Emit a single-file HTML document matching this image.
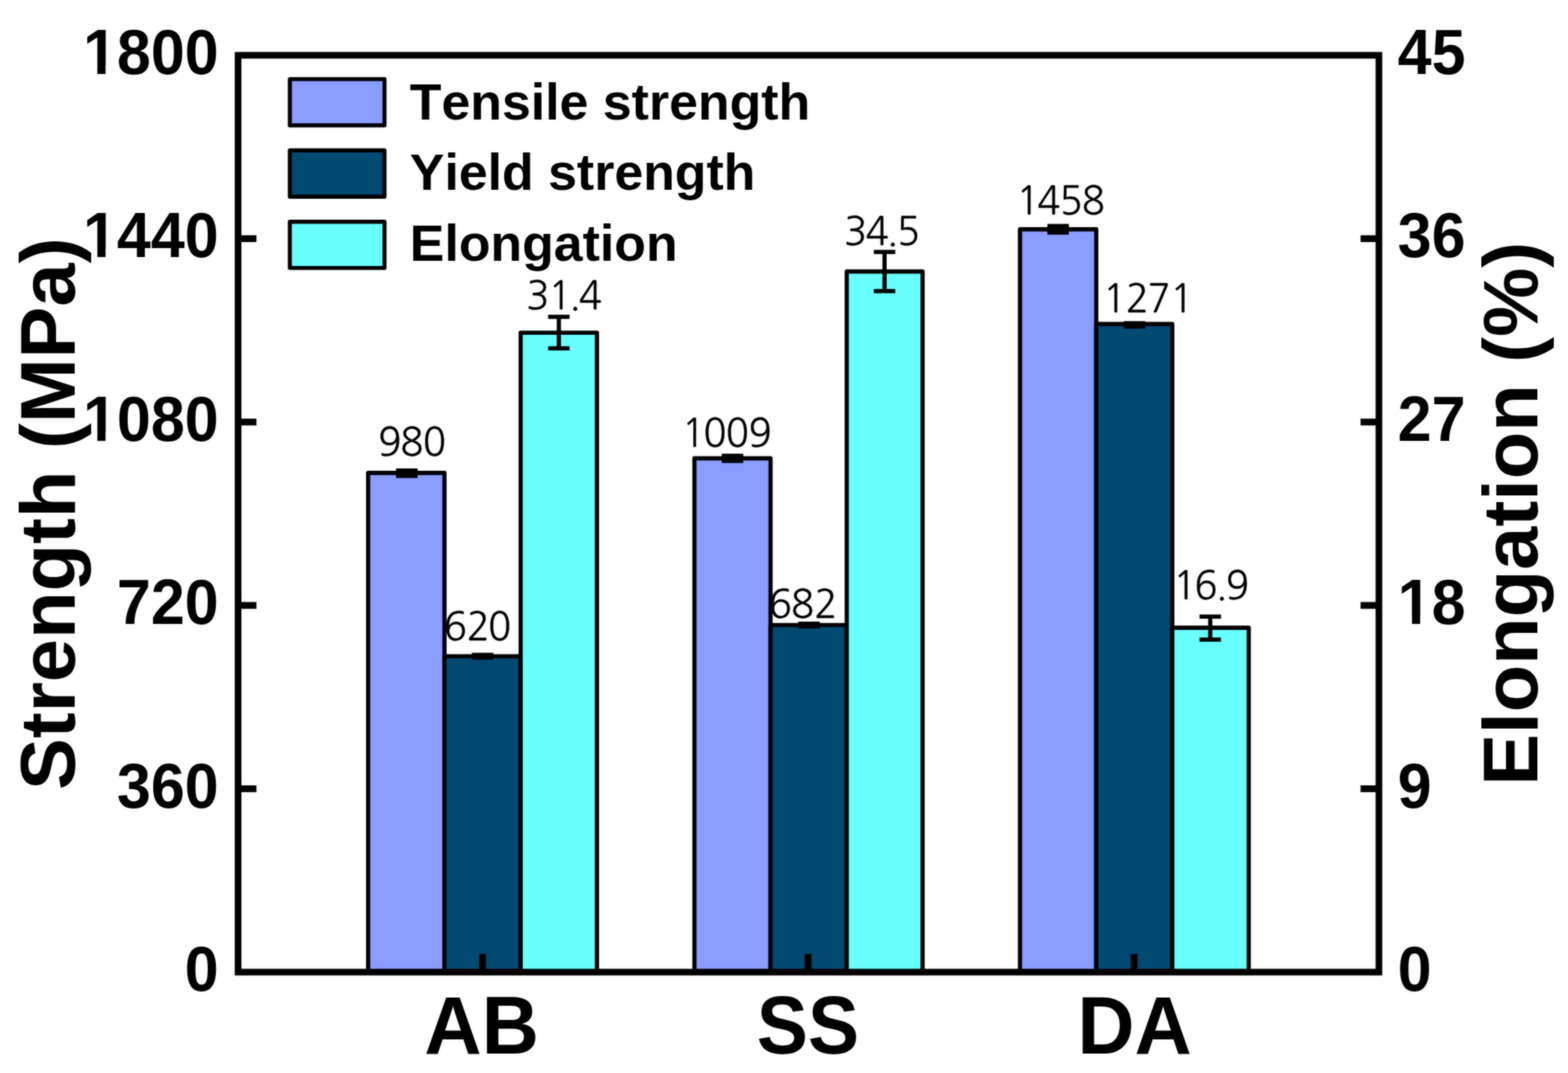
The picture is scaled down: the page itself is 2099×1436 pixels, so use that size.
<!DOCTYPE html>
<html lang="en">
<head>
<meta charset="utf-8">
<title>Tensile strength, yield strength and elongation of AB, SS and DA samples</title>
<style>
html,body{margin:0;padding:0;background:#fff;}
body{width:2099px;height:1436px;overflow:hidden;}
svg{display:block;}
.b{font-family:"Liberation Sans", sans-serif;font-weight:700;fill:#000;font-kerning:none;}
.d{font-family:"NanumGothic", "Noto Sans CJK KR", "Liberation Sans", sans-serif;font-weight:400;fill:#000;stroke:#000;stroke-width:0.3px;}
</style>
</head>
<body>
<svg width="2099" height="1436" viewBox="0 0 2099 1436" role="img" aria-label="Bar chart of tensile strength, yield strength and elongation for AB, SS and DA">
<defs>
<filter id="soft" x="0" y="0" width="2099" height="1436" filterUnits="userSpaceOnUse" color-interpolation-filters="sRGB">
<feGaussianBlur in="SourceGraphic" stdDeviation="0.9" result="b"/>
<feComposite in="SourceGraphic" in2="b" operator="arithmetic" k1="0" k2="0.45" k3="0.55" k4="0"/>
</filter>
</defs>
<g filter="url(#soft)">
<rect x="0" y="0" width="2099" height="1436" fill="#ffffff"/>
<g stroke="#000" stroke-width="5.6" stroke-linejoin="round">
<rect x="492.8" y="632.9" width="102.2" height="668.1" fill="#8b9dff"/>
<rect x="595.0" y="878.2" width="102.0" height="422.8" fill="#004a72"/>
<rect x="697.0" y="445.2" width="102.1" height="855.8" fill="#6affff"/>
<rect x="929.6" y="613.4" width="101.9" height="687.6" fill="#8b9dff"/>
<rect x="1031.5" y="836.5" width="102.0" height="464.5" fill="#004a72"/>
<rect x="1133.5" y="363.4" width="101.5" height="937.6" fill="#6affff"/>
<rect x="1365.4" y="306.9" width="102.1" height="994.1" fill="#8b9dff"/>
<rect x="1467.5" y="433.6" width="101.8" height="867.4" fill="#004a72"/>
<rect x="1569.3" y="840.1" width="102.3" height="460.9" fill="#6affff"/>
</g>
<g stroke="#000" stroke-width="5.6" stroke-linecap="butt" fill="none">
<line x1="530.2" y1="629.7" x2="559.0" y2="629.7"/>
<line x1="530.2" y1="636.9" x2="559.0" y2="636.9"/>
<line x1="544.6" y1="629.7" x2="544.6" y2="636.9"/>
<line x1="631.7" y1="876.4" x2="660.5" y2="876.4"/>
<line x1="631.7" y1="880.0" x2="660.5" y2="880.0"/>
<line x1="646.1" y1="876.4" x2="646.1" y2="880.0"/>
<line x1="733.7" y1="424.0" x2="762.5" y2="424.0"/>
<line x1="733.7" y1="466.2" x2="762.5" y2="466.2"/>
<line x1="748.1" y1="424.0" x2="748.1" y2="466.2"/>
<line x1="966.2" y1="610.0" x2="995.0" y2="610.0"/>
<line x1="966.2" y1="616.8" x2="995.0" y2="616.8"/>
<line x1="980.6" y1="610.0" x2="980.6" y2="616.8"/>
<line x1="1068.6" y1="834.7" x2="1097.4" y2="834.7"/>
<line x1="1068.6" y1="838.3" x2="1097.4" y2="838.3"/>
<line x1="1083.0" y1="834.7" x2="1083.0" y2="838.3"/>
<line x1="1169.7" y1="337.2" x2="1198.5" y2="337.2"/>
<line x1="1169.7" y1="389.6" x2="1198.5" y2="389.6"/>
<line x1="1184.1" y1="337.2" x2="1184.1" y2="389.6"/>
<line x1="1402.1" y1="302.5" x2="1430.9" y2="302.5"/>
<line x1="1402.1" y1="311.3" x2="1430.9" y2="311.3"/>
<line x1="1416.5" y1="302.5" x2="1416.5" y2="311.3"/>
<line x1="1504.3" y1="432.6" x2="1533.1" y2="432.6"/>
<line x1="1504.3" y1="437.0" x2="1533.1" y2="437.0"/>
<line x1="1518.7" y1="432.6" x2="1518.7" y2="437.0"/>
<line x1="1605.7" y1="825.2" x2="1634.5" y2="825.2"/>
<line x1="1605.7" y1="856.0" x2="1634.5" y2="856.0"/>
<line x1="1620.1" y1="825.2" x2="1620.1" y2="856.0"/>
</g>
<rect x="318.7" y="74.0" width="1527.2" height="1227.0" fill="none" stroke="#000" stroke-width="8.9"/>
<g stroke="#000" stroke-width="9.1">
<line x1="318.7" y1="1055.6" x2="343.3" y2="1055.6"/>
<line x1="1845.9" y1="1055.6" x2="1821.3" y2="1055.6"/>
<line x1="318.7" y1="810.2" x2="343.3" y2="810.2"/>
<line x1="1845.9" y1="810.2" x2="1821.3" y2="810.2"/>
<line x1="318.7" y1="564.8" x2="343.3" y2="564.8"/>
<line x1="1845.9" y1="564.8" x2="1821.3" y2="564.8"/>
<line x1="318.7" y1="319.4" x2="343.3" y2="319.4"/>
<line x1="1845.9" y1="319.4" x2="1821.3" y2="319.4"/>
<line x1="646.0" y1="1301.0" x2="646.0" y2="1276.5"/>
<line x1="1081.8" y1="1301.0" x2="1081.8" y2="1276.5"/>
<line x1="1518.1" y1="1301.0" x2="1518.1" y2="1276.5"/>
</g>
<g class="b" font-size="81.6">
<text transform="translate(292.7 1326.0) scale(1 1.035)" text-anchor="end">0</text>
<text transform="translate(1871.0 1326.0) scale(1 1.035)" text-anchor="start">0</text>
<text transform="translate(292.7 1080.6) scale(1 1.035)" text-anchor="end">360</text>
<text transform="translate(1871.0 1080.6) scale(1 1.035)" text-anchor="start">9</text>
<text transform="translate(292.7 835.2) scale(1 1.035)" text-anchor="end">720</text>
<text transform="translate(1871.0 835.2) scale(1 1.035)" text-anchor="start">18</text>
<text transform="translate(292.7 589.8) scale(1 1.035)" text-anchor="end">1080</text>
<text transform="translate(1871.0 589.8) scale(1 1.035)" text-anchor="start">27</text>
<text transform="translate(292.7 344.4) scale(1 1.035)" text-anchor="end">1440</text>
<text transform="translate(1871.0 344.4) scale(1 1.035)" text-anchor="start">36</text>
<text transform="translate(292.7 99.0) scale(1 1.035)" text-anchor="end">1800</text>
<text transform="translate(1871.0 99.0) scale(1 1.035)" text-anchor="start">45</text>
</g>
<g fill="#fff">
<rect x="1874.3" y="824.6" width="15.9" height="12.1"/>
<rect x="1901.1" y="824.6" width="14.6" height="12.1"/>
<rect x="114.4" y="579.2" width="15.9" height="12.1"/>
<rect x="141.3" y="579.2" width="14.6" height="12.1"/>
<rect x="114.4" y="333.8" width="15.9" height="12.1"/>
<rect x="141.3" y="333.8" width="14.6" height="12.1"/>
<rect x="114.4" y="88.4" width="15.9" height="12.1"/>
<rect x="141.3" y="88.4" width="14.6" height="12.1"/>
</g>
<g class="b" font-size="104" text-anchor="middle">
<text transform="translate(644.7 1409.6) scale(1.022 1.045)">AB</text>
<text transform="translate(1081.5 1409.6) scale(0.989 1.045)">SS</text>
<text transform="translate(1518.7 1409.6) scale(1.019 1.045)">DA</text>
</g>
<text class="b" font-size="104" text-anchor="middle" transform="translate(99.7 687.6) rotate(-90)">Strength (MPa)</text>
<text class="b" font-size="104" text-anchor="middle" transform="translate(2058.0 687.6) rotate(-90)">Elongation (%)</text>
<g stroke="#000" stroke-width="5.4" stroke-linejoin="round">
<rect x="388.0" y="105.9" width="126.7" height="61.9" fill="#8b9dff"/>
<rect x="388.0" y="201.3" width="126.7" height="61.9" fill="#004a72"/>
<rect x="388.0" y="296.7" width="126.7" height="61.9" fill="#6affff"/>
</g>
<g class="b" font-size="69.4">
<text x="548.6" y="159.7">Tensile strength</text>
<text x="548.6" y="254.4">Yield strength</text>
<text x="548.6" y="349.1">Elongation</text>
</g>
<g class="d" font-size="51.4">
<text transform="translate(0 610.0) scale(1 1)" x="506.2 535.7 566.1">980</text>
<text transform="translate(0 857.0) scale(1 1)" x="594.1 624.7 653.3">620</text>
<text transform="translate(0 414.2) scale(1 1)" x="704.5 734.1 761.9 774.8">31.4</text>
<text transform="translate(0 597.7) scale(1 1)" x="912.7 941.4 971.4 1001.9">1009</text>
<text transform="translate(0 826.6) scale(1 1)" x="1029.1 1058.7 1090.0">682</text>
<text transform="translate(0 328.4) scale(1 1)" x="1129.7 1158.7 1187.1 1200.5">34.5</text>
<text transform="translate(0 286.5) scale(1 1)" x="1360.4 1388.6 1418.3 1448.1">1458</text>
<text transform="translate(0 418.2) scale(1 1)" x="1476.4 1507.1 1535.9 1566.4">1271</text>
<text transform="translate(0 802.4) scale(1 1)" x="1570.4 1598.8 1627.5 1641.1">16.9</text>
</g>
</g>
</svg>
</body>
</html>
